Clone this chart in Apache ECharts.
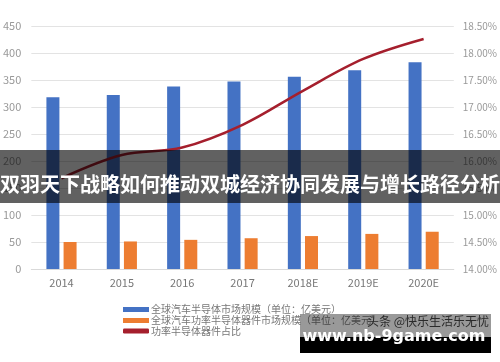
<!DOCTYPE html>
<html>
<head>
<meta charset="utf-8">
<script src="https://cdn.jsdelivr.net/npm/echarts@6/dist/echarts.min.js"></script>
<style>
html,body{margin:0;padding:0;background:#fff;}
#c{width:500px;height:362px;}
</style>
</head>
<body>
<div id="c"></div>
<script>
const categories = ['2014', '2015', '2016', '2017', '2018E', '2019E', '2020E'];
const marketSize = [318, 322, 338, 347, 356, 368, 383];
const powerSize = [50, 51, 54, 57, 61, 65, 69];
const powerShare = [15.68, 16.11, 16.25, 16.67, 17.30, 17.89, 18.26];
const seriesNames = ['全球汽车半导体市场规模（单位：亿美元）', '全球汽车功率半导体器件市场规模（单位：亿美元）', '功率半导体器件占比'];
const leftAxis = { min: 0, max: 450, interval: 50 };
const rightAxis = { min: 14, max: 18.5, interval: 0.5 };
const bannerText = '双羽天下战略如何推动双城经济协同发展与增长路径分析';
const watermarkTop = '头条 @快乐生活乐无忧';
const watermarkSite = 'www.nb-9game.com';

const FONT = '"Noto Sans CJK SC", "Noto Sans", sans-serif';
const chart = echarts.init(document.getElementById('c'), null, { renderer: 'canvas' });

function legendAt(name, top, icon) {
  return {
    data: [{ name: name, icon: icon }],
    left: 123, top: top, orient: 'vertical',
    itemWidth: 26, itemHeight: 5, itemGap: 0, padding: 0,
    selectedMode: false,
    textStyle: { fontSize: 10, color: '#777', fontFamily: FONT, padding: [0, 0, 0, -3] }
  };
}

chart.setOption({
  animation: false,
  backgroundColor: '#fff',
  grid: { left: 28, right: 43, top: 26, bottom: 93 },
  legend: [
    legendAt(seriesNames[0], 304.5, 'rect'),
    legendAt(seriesNames[1], 315.5, 'rect'),
    legendAt(seriesNames[2], 326, 'roundRect')
  ],
  xAxis: {
    type: 'category',
    data: categories,
    axisTick: { show: false },
    axisLine: { lineStyle: { color: '#d9d9d9', width: 1 } },
    axisLabel: { color: '#777', fontSize: 11, margin: 8, fontFamily: FONT }
  },
  yAxis: [
    {
      type: 'value', min: leftAxis.min, max: leftAxis.max, interval: leftAxis.interval,
      axisLine: { show: false }, axisTick: { show: false },
      axisLabel: { color: '#999', fontSize: 11, margin: 10, fontFamily: FONT },
      splitLine: { lineStyle: { color: '#e3e3e3', width: 1 } }
    },
    {
      type: 'value', min: rightAxis.min, max: rightAxis.max, interval: rightAxis.interval,
      axisLine: { show: false }, axisTick: { show: false },
      axisLabel: { color: '#999', fontSize: 10, margin: 9, fontFamily: FONT,
        formatter: function (v) { return v.toFixed(2) + '%'; } },
      splitLine: { show: false }
    }
  ],
  series: [
    {
      name: seriesNames[0], type: 'bar', data: marketSize,
      barWidth: 13, barGap: '32%',
      itemStyle: { color: '#4472c4' }
    },
    {
      name: seriesNames[1], type: 'bar', data: powerSize,
      barWidth: 13, barGap: '32%',
      itemStyle: { color: '#ed7d31' }
    },
    {
      name: seriesNames[2], type: 'line', yAxisIndex: 1, data: powerShare,
      smooth: 0.35, symbol: 'none',
      lineStyle: { color: '#a51f2d', width: 2.5 },
      itemStyle: { color: '#a51f2d' }
    }
  ],
  graphic: [
    { type: 'rect', z: 100, shape: { x: 0, y: 150, width: 500, height: 53 },
      style: { fill: 'rgba(0,0,0,0.62)' } },
    { type: 'text', z: 101, x: 250, y: 184,
      style: { text: bannerText, fill: '#fff', font: 'bold 20px ' + FONT, align: 'center', verticalAlign: 'middle' } },
    { type: 'rect', z: 100, shape: { x: 300, y: 314, width: 191, height: 23 },
      style: { fill: 'rgba(0,0,0,0.4)' } },
    { type: 'rect', z: 100, shape: { x: 300, y: 337, width: 191, height: 16 },
      style: { fill: '#000' } },
    { type: 'text', z: 101, x: 428, y: 321,
      style: { text: watermarkTop, fill: '#2a2a2a', font: '12px ' + FONT, align: 'center', verticalAlign: 'middle' } },
    { type: 'text', z: 101, x: 394, y: 337,
      style: { text: watermarkSite, fill: '#fff', font: 'bold 16px "DejaVu Sans", sans-serif', align: 'center', verticalAlign: 'middle' } }
  ]
});
</script>
</body>
</html>
